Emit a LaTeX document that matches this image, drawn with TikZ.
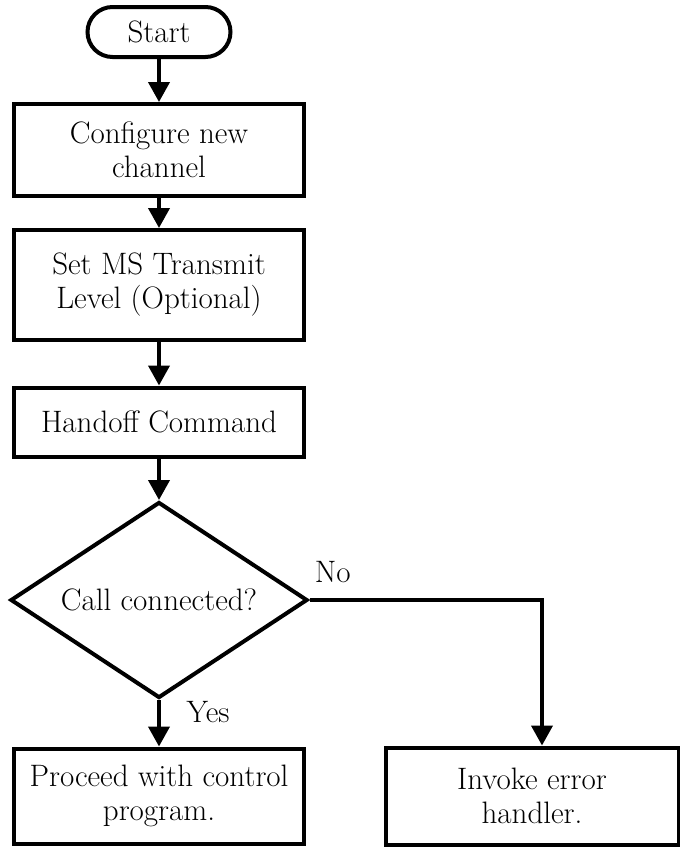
\documentclass[tikz,border=0pt]{standalone}
\usepackage{tikz}
\usetikzlibrary{arrows.meta, positioning, shapes}

\begin{document}
\begin{tikzpicture}[x=0.5pt, y=-0.5pt, line width=2pt,
        >={Triangle[length=10pt, width=10.5pt]},
        every node/.style={font=\fontsize{15.5}{17}\selectfont},
        startstop/.style={draw, rectangle, rounded corners=12.5pt, minimum width=71.5pt, minimum height=25pt},
        stepbox/.style={draw, rectangle, align=center, minimum width=145pt, inner sep=1.5pt},
        decision/.style={draw, diamond, aspect=1.5, minimum width=148.5pt, minimum height=98pt, inner sep=0pt}]
        \useasboundingbox (0,0) rectangle (680,847);

        % Nodes
        \node (start) [startstop] at (159,32) {Start};
        \node (config) [stepbox, minimum height=46pt, below of=start, node distance=59pt] {Configure new\\channel};
        \node (setms) [stepbox, minimum height=55pt, below of=config, node distance=67.5pt] {Set MS Transmit\\Level (Optional)};
        \node (handoff) [stepbox, minimum height=34.5pt, below of=setms, node distance=68.5pt] {Handoff Command};
        \node (callok) [decision, below of=handoff, node distance=89pt] {Call connected?};
        \node (proceed) [stepbox, minimum height=47.5pt, below of=callok, node distance=98pt] {Proceed with control\\program.};
        \node (invoke) [stepbox, minimum height=48.5pt, minimum width=146.5pt, right of=proceed, node distance=186.5pt] {Invoke error\\handler.};

        % Arrows
        \draw[->] (start) -- (config);
        \draw[->] (config) -- (setms);
        \draw[->] (setms) -- (handoff);
        \draw[->] (handoff) -- (callok);
        \draw[->] (callok) -- node[right, pos=0.25, xshift=9.5pt] {Yes} (proceed);
        \draw[->] (callok.east) -| node[above, pos=0.05, yshift=4.5pt] {No} ([xshift=5pt]invoke.north);
    \end{tikzpicture}
\end{document}
